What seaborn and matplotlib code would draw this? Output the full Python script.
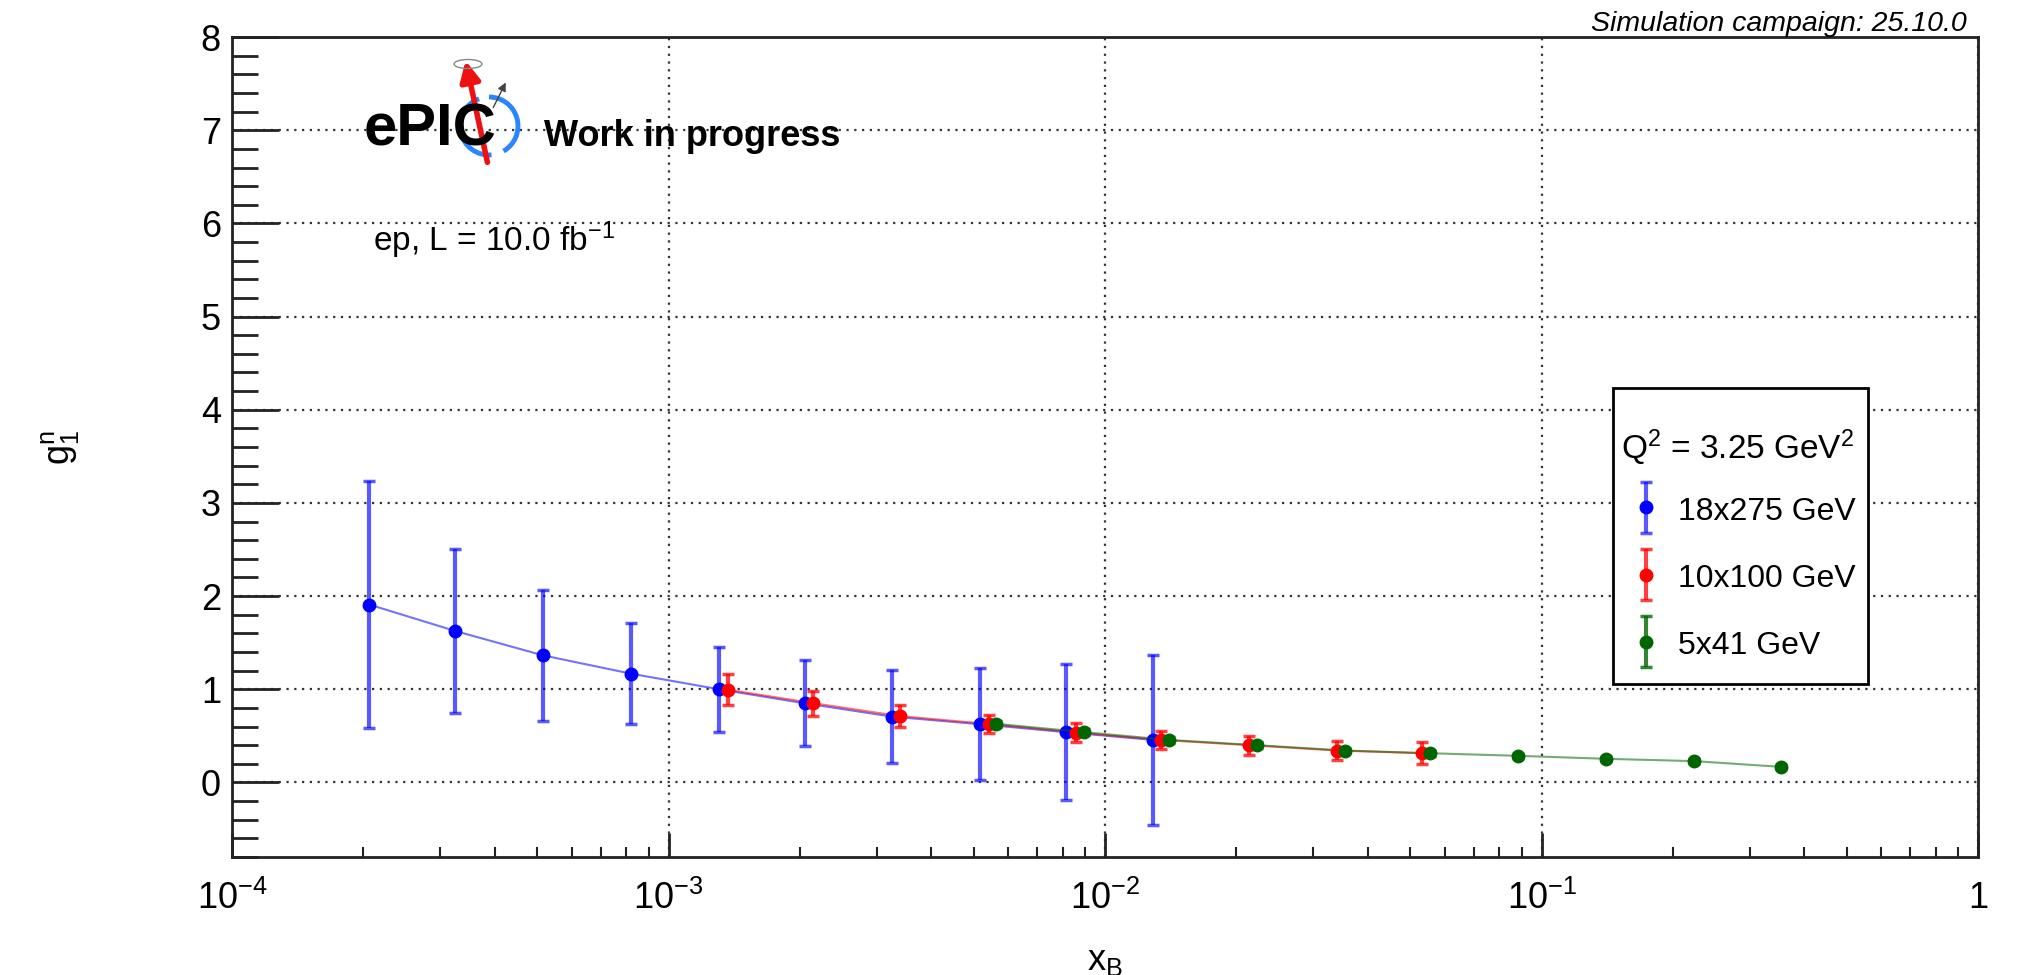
import numpy as np
import pandas as pd
import seaborn as sns
import matplotlib.pyplot as plt
import matplotlib.ticker as ticker
from matplotlib.patches import Arc, Ellipse, FancyArrowPatch, Rectangle
from matplotlib.transforms import IdentityTransform
from matplotlib.container import ErrorbarContainer
from matplotlib.legend_handler import HandlerErrorbar


# g1 neutron projections at Q^2 = 3.25 GeV^2
blue_x = [2.06e-4, 3.25e-4, 5.16e-4, 8.2e-4, 1.306e-3, 2.05e-3, 3.25e-3, 5.18e-3, 8.13e-3, 1.285e-2]
blue_y = [1.91, 1.625, 1.364, 1.168, 1.0, 0.85, 0.707, 0.625, 0.54, 0.457]
blue_err = [1.33, 0.88, 0.70, 0.54, 0.455, 0.46, 0.50, 0.60, 0.73, 0.91]

red_x = [1.367e-3, 2.14e-3, 3.39e-3, 5.41e-3, 8.59e-3, 1.34e-2, 2.14e-2, 3.39e-2, 5.33e-2]
red_y = [0.995, 0.852, 0.712, 0.628, 0.536, 0.457, 0.40, 0.343, 0.314]
red_err = [0.165, 0.135, 0.12, 0.10, 0.10, 0.095, 0.10, 0.10, 0.12]

green_x = [5.63e-3, 8.97e-3, 1.40e-2, 2.23e-2, 3.54e-2, 5.55e-2, 8.84e-2, 0.1407, 0.224, 0.353]
green_y = [0.629, 0.54, 0.457, 0.40, 0.343, 0.314, 0.286, 0.254, 0.229, 0.168]
green_err = [0.03, 0.03, 0.03, 0.03, 0.025, 0.025, 0.025, 0.02, 0.02, 0.02]

series_labels = ["18x275 GeV", "10x100 GeV", "5x41 GeV"]
series_colors = ["#0000ff", "#ff0000", "#006600"]
bar_colors = [(0, 0, 1, 0.65), (1, 0, 0, 0.75), (0, 0.4, 0, 0.8)]


sns.set_theme(style="white")
plt.rcParams['font.family'] = ['Liberation Sans', 'DejaVu Sans']
plt.rcParams['mathtext.fontset'] = 'custom'
plt.rcParams['mathtext.rm'] = 'Liberation Sans'
plt.rcParams['mathtext.it'] = 'Liberation Sans:italic'
plt.rcParams['mathtext.bf'] = 'Liberation Sans:bold'
plt.rcParams['text.color'] = 'black'
plt.rcParams['axes.labelcolor'] = 'black'
plt.rcParams['xtick.color'] = 'black'
plt.rcParams['ytick.color'] = 'black'

fig = plt.figure(figsize=(20.23, 9.75), dpi=100)
ax = fig.add_axes([0.1147, 0.121, 0.8631, 0.841])

all_series = [(blue_x, blue_y, blue_err), (red_x, red_y, red_err), (green_x, green_y, green_err)]
for i, (xs, ys, es) in enumerate(all_series):
    df = pd.DataFrame({"x": xs, "y": ys, "err": es})
    sns.lineplot(data=df, x="x", y="y", ax=ax, color=series_colors[i], lw=1.5,
                 alpha=0.55, sort=False, estimator=None, legend=False, zorder=2 + i)
    ax.errorbar(df["x"], df["y"], yerr=df["err"], fmt='o', ms=9, color=series_colors[i],
                ecolor=bar_colors[i], elinewidth=3, capsize=4, capthick=2.5,
                label=series_labels[i], zorder=3 + i)

ax.set_xscale('log')
ax.set_xlim(1e-4, 1)
ax.set_ylim(-0.8, 8)

ax.yaxis.set_major_locator(ticker.MultipleLocator(1))
ax.yaxis.set_minor_locator(ticker.MultipleLocator(0.2))
ax.xaxis.set_major_locator(ticker.LogLocator(base=10))
ax.xaxis.set_minor_locator(ticker.LogLocator(base=10, subs=np.arange(2, 10)))
ax.xaxis.set_minor_formatter(ticker.NullFormatter())
ax.xaxis.set_major_formatter(ticker.FuncFormatter(
    lambda v, pos: '1' if abs(v - 1) < 1e-9 else r'$\mathregular{10^{%d}}$' % round(np.log10(v))))

ax.tick_params(which='both', left=True, bottom=True, top=False, right=False)
ax.tick_params(axis='y', which='major', direction='in', length=34, width=2, labelsize=26, pad=8, color='#222222')
ax.tick_params(axis='y', which='minor', direction='in', length=19, width=2, color='#222222')
ax.tick_params(axis='x', which='major', direction='in', length=17, width=2, labelsize=26, pad=17, color='#222222')
ax.tick_params(axis='x', which='minor', direction='in', length=7, width=1.5, color='#222222')

ax.grid(True, which='major', linestyle=(0, (1, 2.5)), color='#333333', lw=1.6)
for sp in ax.spines.values():
    sp.set_linewidth(2)
    sp.set_color('#222222')

ax.set_xlabel(r'$\mathregular{x_B}$', fontsize=26)
ax.set_ylabel(r'$\mathregular{g_1^n}$', fontsize=26)
ax.xaxis.set_label_coords(0.5, -0.105)
ax.yaxis.set_label_coords(-0.0867, 0.5)

# legend: white box with black frame, header, then the three entries
px = IdentityTransform()
box = Rectangle((1613, 975 - 684), 255, 296, transform=px, fc='white', ec='black', lw=2,
                clip_on=False, zorder=9)
ax.add_patch(box)
handles, labels = ax.get_legend_handles_labels()
leg = ax.legend(handles, labels, loc='center left', bbox_to_anchor=(1613 / 2023, 1 - 578 / 975),
                bbox_transform=fig.transFigure, borderaxespad=0, fontsize=23, frameon=False,
                borderpad=0.5, labelspacing=1.1, handleheight=1.0, handlelength=1.05,
                handletextpad=0.5, handler_map={ErrorbarContainer: HandlerErrorbar(yerr_size=0.8)})
leg.set_zorder(10)
fig.text(1621 / 2023, 1 - 459 / 975, r'$\mathregular{Q^2}$ = 3.25 GeV$\mathregular{^2}$',
         ha='left', va='baseline', fontsize=24, zorder=11)

# labels on the pad
fig.text(1967 / 2023, 1 - 31 / 975, 'Simulation campaign: 25.10.0', ha='right', va='baseline',
         fontsize=20.5, style='italic')
fig.text(364 / 2023, 1 - 146 / 975, 'ePIC', ha='left', va='baseline', fontsize=43, weight='bold')
fig.text(544 / 2023, 1 - 146 / 975, 'Work in progress', ha='left', va='baseline', fontsize=26, weight='bold')
fig.text(373 / 2023, 1 - 251 / 975, r'ep, L = 10.0 fb$\mathregular{^{-1}}$', ha='left', va='baseline', fontsize=24)

# ePIC logo decoration (pixel coordinates)
ring_c = (489, 975 - 126)
for t1, t2 in [(110, 275), (300, 450)]:
    fig.patches.append(Arc(ring_c, 58, 58, theta1=t1, theta2=t2, color='#2a86ff', lw=3.5, transform=px))
fig.patches.append(FancyArrowPatch((488, 975 - 165), (465, 975 - 58), arrowstyle='-|>,head_length=12,head_width=6',
                                   color='#ee1111', lw=4, transform=px, mutation_scale=1))
fig.patches.append(FancyArrowPatch((492, 975 - 110), (507, 975 - 80), arrowstyle='-|>,head_length=5,head_width=2.5',
                                   color='#444444', lw=1, transform=px, mutation_scale=1))
fig.patches.append(Ellipse((468, 975 - 64), 28, 9, fill=False, ec='#888888', lw=1, transform=px))

fig.savefig('out.png', dpi=100)
